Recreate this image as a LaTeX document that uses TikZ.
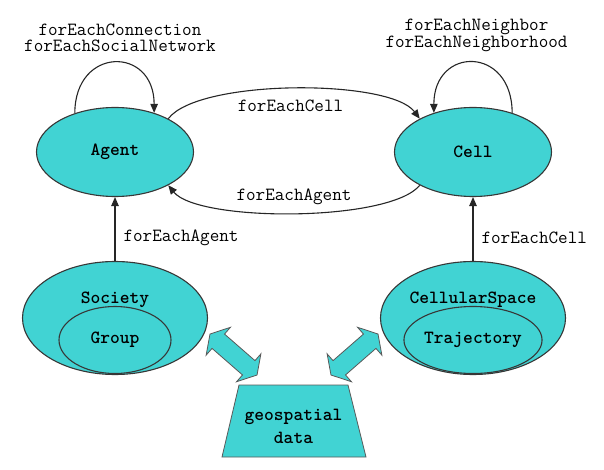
\documentclass[tikz,border=0pt]{standalone}
\usepackage{fontspec}
\usepackage{tikz}
\usetikzlibrary{calc}
\usetikzlibrary{arrows.meta}
\usetikzlibrary{shapes}
\usetikzlibrary{shapes.geometric}
\definecolor{turq}{RGB}{65,211,211}
\definecolor{rimgray}{RGB}{55,55,55}
\tikzset{>={Triangle[length=9pt,width=7.5pt]}}
\tikzstyle{ent} = [ellipse, draw=rimgray, fill=turq, line width=1.1pt, inner sep=0pt, font=\fontsize{18.6}{16.5}\selectfont\ttfamily\bfseries]
\tikzstyle{enttxt} = [inner sep=0pt, font=\fontsize{18.6}{16.5}\selectfont\ttfamily\bfseries]
\tikzstyle{lbl} = [inner sep=2pt, font=\fontsize{18.6}{16.5}\selectfont\ttfamily]
\tikzstyle{link} = [draw=black!85, line width=1.1pt]
\tikzstyle{blockarr} = [draw=black!65, fill=turq, line width=0.8pt, line join=miter]
\newcommand{\blockarrow}[2]{\draw [blockarr, shift={#1}, rotate=#2] (0,0) -- (11,-18.5) -- (11,-9.5) -- (51.4,-9.5) -- (51.4,-18.5) -- (62.4,0) -- (51.4,18.5) -- (51.4,9.5) -- (11,9.5) -- (11,18.5) -- cycle;}

\begin{document}
\begin{tikzpicture}[x=1pt, y=-1pt]
\useasboundingbox (0,0) rectangle (604,470);
\node [ent, minimum width=157pt, minimum height=89pt] (agent) at (115,152) {Agent};
\node [ent, minimum width=157pt, minimum height=89pt] (cell) at (473,152) {Cell};
\node [ent, minimum width=185pt, minimum height=113pt] (society) at (115,318) {};
\node [ent, minimum width=112pt, minimum height=67pt] (group) at (115,340) {Group};
\node [enttxt, anchor=base] (societylbl) at (115,303) {Society};
\node [ent, minimum width=185pt, minimum height=113pt] (space) at (473,318) {};
\node [ent, minimum width=111pt, minimum height=67pt] (trajectory) at (473,340) {Trajectory};
\node [enttxt, anchor=base] (spacelbl) at (473,303) {CellularSpace};
\draw [blockarr] (239,385) -- (348,385) -- (366,457) -- (222,457) -- cycle;
\node [enttxt, align=center] (geo) at (293.5,426.4) {geospatial\\[7pt]data};
\blockarrow{(210,334)}{-41.1}
\blockarrow{(378,334)}{-138.9}
\draw [->, link] (agent.136) .. controls +(0,-67) and +(0,-67) .. (agent.45) node[pos=0.5, above=8.5pt, xshift=5.5pt, lbl, align=center] (lconn) {forEachConnection\\forEachSocialNetwork};
\draw [->, link] (cell.45) .. controls +(0,-67) and +(0,-67) .. (cell.135) node[pos=0.5, above=8.5pt, xshift=3.5pt, lbl, align=center] (lneigh) {forEachNeighbor\\forEachNeighborhood};
\draw [->, link] (agent.32) .. controls +(30,-40) and +(-30,-40) .. (cell.148) node[pos=0.5, below=9pt, xshift=-3.5pt, lbl] (lcell) {forEachCell};
\draw [->, link] (cell.-148) .. controls +(-30,37) and +(30,37) .. (agent.-32) node[pos=0.5, above=5.7pt, lbl] (lagent) {forEachAgent};
\draw [->, link] (society.north) to node[pos=0.36, right=6pt, lbl] (lsociety) {forEachAgent} (agent.south);
\draw [->, link] (space.north) to node[pos=0.36, right=6pt, lbl] (lspace) {forEachCell} (cell.south);
\end{tikzpicture}
\end{document}
